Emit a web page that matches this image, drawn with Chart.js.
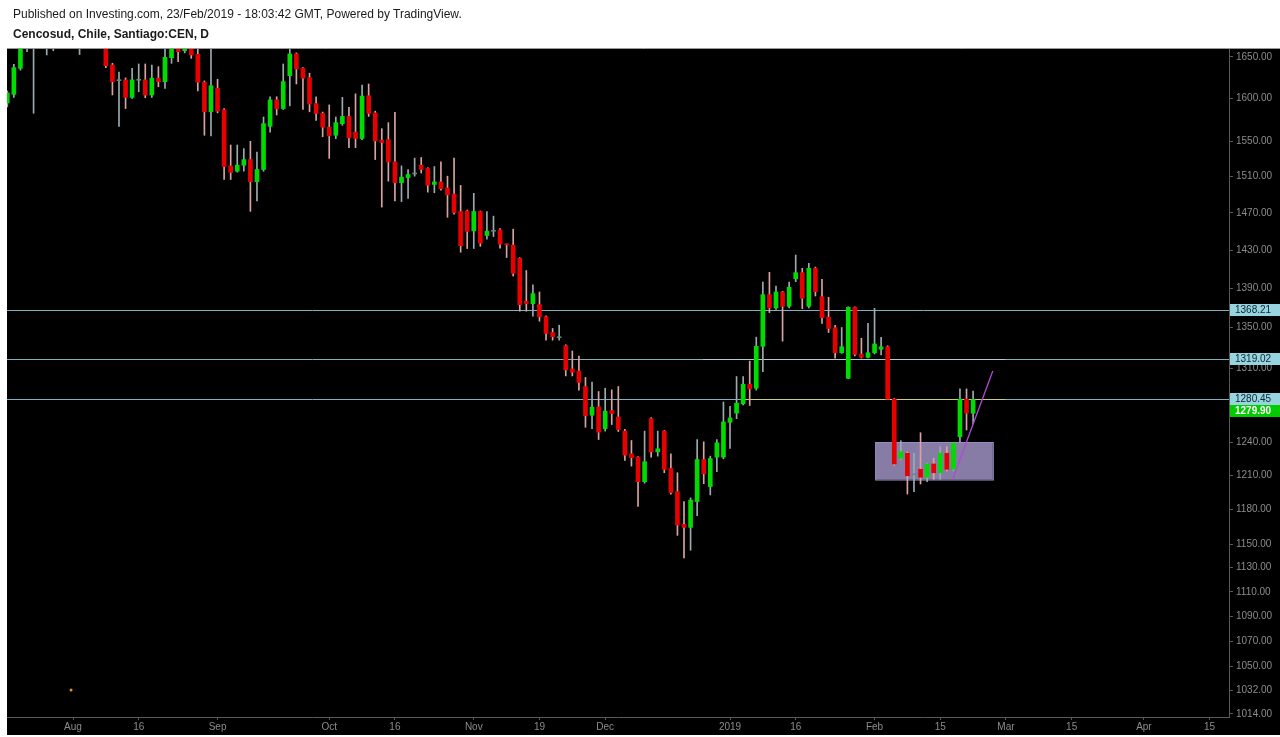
<!DOCTYPE html>
<html><head><meta charset="utf-8">
<script src="https://cdn.jsdelivr.net/npm/chart.js@4.4.1/dist/chart.umd.min.js"></script>
<style>
html,body{margin:0;padding:0;background:#fff;width:1280px;height:737px;overflow:hidden}
#wrap{position:relative;width:1280px;height:737px}
#c{position:absolute;left:0;top:0}
.t1{position:absolute;left:13px;top:7px;font:12px "Liberation Sans",Arial,sans-serif;color:#1a1a1a;white-space:nowrap}
.t2{position:absolute;left:13px;top:27px;font:bold 12px "Liberation Sans",Arial,sans-serif;color:#1a1a1a;white-space:nowrap}
</style></head>
<body><div id="wrap">
<canvas id="c" width="1280" height="737"></canvas>
<div class="t1">Published on Investing.com, 23/Feb/2019 - 18:03:42 GMT, Powered by TradingView.</div>
<div class="t2">Cencosud, Chile, Santiago:CEN, D</div>
</div>
<script>
// ---- data (daily candles, slot index = position in arrays) ----
const opens  = [1594.7,1605.0,1636.2,1672,1668,1685,1690,1690,1700,1710,1705,1690,1700,1695,1700,1675,1640.2,1621.3,1622.2,1601.4,1621.8,1622.2,1604.2,1624.3,1620.1,1649.1,1668,1657.7,1672,1653.3,1619.4,1584.3,1612.0,1586.6,1522.0,1516.1,1522.8,1529.2,1504.3,1518.0,1567.3,1598.4,1588.2,1627.3,1653.7,1636.2,1625.0,1594.0,1582.4,1566.4,1557.0,1570.4,1578.9,1560.6,1553.3,1603.3,1583.1,1551.3,1552.1,1526.6,1503.2,1508.9,1513,1522.8,1519.1,1501.3,1504.0,1497.3,1490.6,1471.4,1472.0,1450.5,1471.4,1445.5,1450,1451.5,1436.3,1435.2,1421.3,1376.7,1374.3,1373.3,1361.0,1345.2,1340,1332.1,1309.3,1307.3,1292.4,1265.2,1273.0,1252.6,1269.6,1263.5,1250.4,1229.5,1226.5,1204.4,1262.0,1231.3,1250.4,1216.3,1195.6,1166.9,1164.3,1186.8,1224.3,1200.0,1226.5,1226.5,1258.6,1267.2,1276.0,1294.6,1290.8,1331.5,1383.5,1369.9,1386.2,1371.6,1399.9,1406.2,1371.6,1410.8,1381.4,1360.5,1350.0,1325.2,1300.3,1370.6,1323.8,1320.7,1325.2,1328.6,1331.0,1280.5,1225.4,1230.0,1210.5,1215.5,1208.3,1220.3,1212.4,1230.0,1215.5,1245.2,1280.3,1267.1];
const highs  = [1609,1641.1,1675,1690,1695,1710,1712,1710,1720,1722,1725,1710,1708,1712,1708,1685,1642.3,1631.5,1624.6,1636.2,1641.5,1641.5,1640.2,1638.2,1665,1675,1672,1680,1678,1662,1621,1665,1623.0,1588,1545.8,1545.8,1541.6,1550.0,1537.8,1578.2,1602.1,1602.1,1641.5,1662,1655,1637,1630.3,1602.1,1584,1592.4,1578.2,1601.4,1589.7,1605.5,1616.0,1617.3,1585,1564.6,1571.6,1583.7,1522.0,1518.0,1530.8,1531.5,1520,1521.3,1526.6,1510.5,1530.8,1500.2,1473,1491.4,1472,1471.4,1466.4,1453,1436.5,1452.3,1422,1408.4,1393.7,1386.2,1362,1349.2,1352.5,1333,1326.9,1321.9,1301.1,1296.6,1287.6,1290.8,1289.2,1292.4,1252,1241.7,1227,1250.4,1263,1250.4,1251,1229.5,1212.4,1186.8,1190,1242.6,1240.5,1227.4,1242.6,1277.6,1273.5,1302.0,1302,1317.0,1340.6,1396.5,1406.6,1392.3,1387,1396.5,1424.7,1410.8,1416.0,1412,1399.3,1380.8,1352.4,1350.2,1371,1371,1339.4,1354.4,1369.6,1340.3,1332,1281,1241.5,1231,1230.0,1248.9,1221,1225.4,1236.0,1236.0,1240,1290.1,1290.1,1288.1];
const lows   = [1590,1601.4,1634,1656.5,1582.6,1675,1652.5,1657.7,1690,1695,1698,1653,1685,1688,1670,1637.0,1604.2,1567.3,1588.2,1600,1608,1600.9,1601.4,1614.0,1612.0,1642.3,1644.3,1655,1648.4,1609.1,1557.0,1556.3,1583.1,1506.8,1506.8,1515,1516.1,1471.6,1483.0,1516,1560.6,1580.6,1587,1591.3,1617.3,1587.0,1584.3,1574.2,1555.3,1530.5,1553.0,1568.5,1542.8,1542.8,1552,1578.9,1529.2,1476.3,1504.9,1483.0,1482.3,1485.9,1510.5,1514,1492.7,1492.0,1495,1465.1,1468.4,1427.7,1431.6,1431.6,1433.9,1441.6,1444.4,1432.1,1422.1,1402.7,1366.6,1366.6,1361.6,1356.5,1337.6,1337.6,1337.6,1302.6,1302.6,1289.0,1254.0,1252.6,1242.6,1250.4,1256.5,1250,1223.5,1218.4,1182.6,1203,1226.5,1227.4,1212.4,1193.2,1157.4,1138.3,1144.7,1174.4,1202.6,1192.6,1213.3,1225,1234.4,1262.0,1275,1274.4,1289,1306.8,1365.2,1368.3,1336.6,1370,1396.8,1369.2,1370,1382.1,1354.4,1345.2,1319.8,1324.6,1300,1322,1320,1320,1324,1323.0,1280,1219,1224,1193.4,1195.4,1202.3,1204.3,1206.5,1206.5,1214,1214,1240.6,1251.4,1257.0];
const closes = [1606.6,1637.0,1668,1680,1685,1700,1700,1700,1710,1705,1715,1700,1695,1705,1690,1639.4,1620.1,1621.3,1601.4,1622.2,1621.8,1604.2,1624.3,1620.1,1649.6,1668,1656.5,1672,1652.5,1619.4,1584.3,1615.2,1585.1,1521.3,1514.6,1522.8,1529.2,1504.3,1518.0,1570.4,1598.4,1587.8,1620.1,1653.7,1635.4,1624.3,1593.5,1582.4,1566.4,1556.3,1571.6,1578.9,1554.0,1553.3,1602.9,1582.4,1550.5,1548.6,1526.6,1503.2,1509.4,1512.3,1513,1518.0,1500.5,1504.0,1496.5,1489.8,1470.3,1434.6,1449.8,1471.4,1437.4,1450.1,1450,1436.3,1435.5,1405.5,1373.3,1374.4,1384.5,1361.0,1344.2,1341.0,1340,1308.4,1306.2,1296.3,1264.8,1272.7,1249.4,1269.0,1266.8,1251.9,1228.3,1225.9,1204.4,1222.3,1231.3,1234.1,1215.4,1194.7,1166.4,1164.3,1188.0,1224.3,1211.5,1225.2,1239.6,1258.9,1262.6,1276.6,1294.6,1290.2,1331.5,1383.5,1369.9,1386.2,1371.6,1391.0,1406.2,1379.7,1410.8,1386.5,1360.0,1349.2,1325.2,1331.1,1370.6,1323.6,1320.7,1325.2,1333.8,1331.0,1280.3,1220.3,1231.5,1209.7,1210.5,1208.3,1220.3,1212.4,1230.0,1215.5,1239.2,1280.3,1267.1,1279.9];

// axis ticks
const yTicks   = [1014,1032,1050,1070,1090,1110,1130,1150,1180,1210,1240,1280,1310,1350,1390,1430,1470,1510,1550,1600,1650];
const tickSlots= [10,20,32,49,59,71,81,91,110,120,132,142,152,162,173,183];
const tickText = ['Aug','16','Sep','Oct','16','Nov','19','Dec','2019','16','Feb','15','Mar','15','Apr','15'];

// drawings (in slot / price units)
const levels     = [1368.21, 1319.02, 1280.45];
const lastPrice  = 1279.90;
const boxSlots   = [132.1, 150.0];
const boxPrices  = [1240.3, 1206.3];
const trendSlots = [143.9, 150.0];
const trendPrices= [1206.7, 1307.4];
const yellowSeg  = [112.3, 151.9];
const lightSeg   = [105.9, 151.9];
const dotSlot = 9.7, dotPrice = 1032;

const UP='#00dc00', DN='#e60000', UPW='#9aabb0', DNW='#d9a3a3', DOJI='#6f8580';

const wickData = lows.map((l,i)=>({x:i,y:[l,highs[i]]}));
const bodyData = opens.map((o,i)=>({x:i,y:[o,closes[i]]}));

const overlay = {
  id:'overlay',
  beforeDraw(chart){
    const c=chart.ctx;
    c.save();
    c.fillStyle='#000';
    c.fillRect(7,49,1273,686);
    c.strokeStyle='#9a9a9a';c.lineWidth=1;
    c.beginPath();c.moveTo(7,48.5);c.lineTo(1280,48.5);c.stroke();
    c.restore();
  },
  beforeDatasetsDraw(chart){
    const c=chart.ctx, xs=chart.scales.x, ys=chart.scales.y, a=chart.chartArea;
    c.save();
    c.beginPath();c.rect(a.left,a.top,a.right-a.left,a.bottom-a.top);c.clip();
    c.lineWidth=1;
    levels.forEach(p=>{
      const y=Math.round(ys.getPixelForValue(p))+0.5;
      c.strokeStyle='#7fb0bf';
      c.beginPath();c.moveTo(a.left,y);c.lineTo(a.right,y);c.stroke();
    });
    let y=Math.round(ys.getPixelForValue(levels[1]))+0.5;
    c.strokeStyle='#a9cdd6';
    c.beginPath();c.moveTo(xs.getPixelForValue(lightSeg[0]),y);c.lineTo(xs.getPixelForValue(lightSeg[1]),y);c.stroke();
    y=Math.round(ys.getPixelForValue(levels[2]))+0.5;
    c.strokeStyle='#c9cf78';
    c.beginPath();c.moveTo(xs.getPixelForValue(yellowSeg[0]),y);c.lineTo(xs.getPixelForValue(yellowSeg[1]),y);c.stroke();
    const x0=xs.getPixelForValue(boxSlots[0]), x1=xs.getPixelForValue(boxSlots[1]);
    const y0=ys.getPixelForValue(boxPrices[0]), y1=ys.getPixelForValue(boxPrices[1]);
    c.fillStyle='rgb(134,124,166)';
    c.fillRect(x0,y0,x1-x0,y1-y0);
    c.strokeStyle='rgb(155,142,196)';
    c.strokeRect(x0+0.5,y0+0.5,x1-x0,y1-y0);
    c.fillStyle='#e09020';
    c.beginPath();c.arc(xs.getPixelForValue(dotSlot),ys.getPixelForValue(dotPrice),1.5,0,Math.PI*2);c.fill();
    c.restore();
  },
  afterDatasetsDraw(chart){
    const c=chart.ctx, xs=chart.scales.x, ys=chart.scales.y, a=chart.chartArea;
    c.save();
    c.beginPath();c.rect(a.left,a.top,a.right-a.left,a.bottom-a.top);c.clip();
    c.strokeStyle='#b048d8';c.lineWidth=1.3;
    c.beginPath();
    c.moveTo(xs.getPixelForValue(trendSlots[0]),ys.getPixelForValue(trendPrices[0]));
    c.lineTo(xs.getPixelForValue(trendSlots[1]),ys.getPixelForValue(trendPrices[1]));
    c.stroke();
    c.restore();
  },
  afterDraw(chart){
    const c=chart.ctx, ys=chart.scales.y, a=chart.chartArea;
    c.save();
    c.font='10px "Liberation Sans", Arial, sans-serif';
    c.textBaseline='middle';c.textAlign='left';
    levels.forEach(p=>{
      const y=Math.round(ys.getPixelForValue(p));
      c.fillStyle='#98d3e0';
      c.fillRect(a.right+1,y-6,51,12);
      c.fillStyle='#0b2530';
      c.fillText(p.toFixed(2),a.right+6,y+0.5);
    });
    const yl=Math.round(ys.getPixelForValue(lastPrice))+11;
    c.fillStyle='#00cc00';
    c.fillRect(a.right+1,yl-6,51,12);
    c.fillStyle='#ffffff';c.font='bold 10px "Liberation Sans", Arial, sans-serif';
    c.fillText(lastPrice.toFixed(2),a.right+6,yl+0.5);
    c.restore();
  }
};

new Chart(document.getElementById('c'),{
  type:'bar',
  data:{datasets:[
    {label:'wick',data:wickData,barThickness:1,order:2,clip:0,
     backgroundColor:ctx=>{const i=ctx.dataIndex;return closes[i]>opens[i]?UPW:(closes[i]<opens[i]?DNW:UPW);}},
    {label:'body',data:bodyData,barThickness:4,minBarLength:1,order:1,clip:0,
     backgroundColor:ctx=>{const i=ctx.dataIndex;return closes[i]>opens[i]?UP:(closes[i]<opens[i]?DN:DOJI);}}
  ]},
  options:{
    responsive:false,animation:false,devicePixelRatio:1,
    grouped:false,
    layout:{padding:{top:49,left:7,right:0,bottom:0}},
    plugins:{legend:{display:false},tooltip:{enabled:false},title:{display:false}},
    scales:{
      x:{type:'linear',min:-0.046,max:185.95,offset:false,
        afterBuildTicks:s=>{s.ticks=tickSlots.map(v=>({value:v}));},
        afterFit:s=>{s.height=20;},
        ticks:{autoSkip:false,maxRotation:0,minRotation:0,color:'#8c8c8c',padding:1,
          font:{family:'"Liberation Sans", Arial, sans-serif',size:10},
          callback:v=>{const j=tickSlots.indexOf(v);return j>=0?tickText[j]:'';}},
        grid:{offset:false,drawOnChartArea:false,drawTicks:true,tickLength:3,color:'#5a5a5a'},
        border:{display:true,color:'#5a5a5a'}},
      y:{type:'logarithmic',position:'right',min:1011.6,max:1659.8,
        afterBuildTicks:s=>{s.ticks=yTicks.map(v=>({value:v}));},
        afterFit:s=>{s.width=51;},
        ticks:{autoSkip:false,color:'#8c8c8c',padding:3,
          font:{family:'"Liberation Sans", Arial, sans-serif',size:10},
          callback:v=>Number(v).toFixed(2)},
        grid:{drawOnChartArea:false,drawTicks:true,tickLength:4,color:'#5a5a5a'},
        border:{display:true,color:'#5a5a5a'}}
    }
  },
  plugins:[overlay]
});
</script>
</body></html>
